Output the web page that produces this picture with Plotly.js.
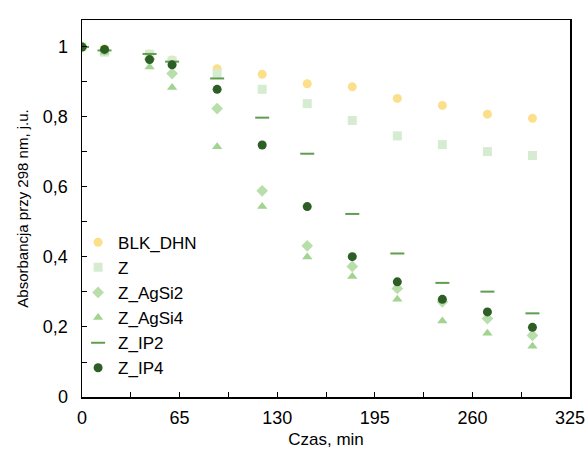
<!DOCTYPE html>
<html>
<head>
<meta charset="utf-8">
<script src="https://cdn.plot.ly/plotly-3.0.1.min.js"></script>
<style>html,body{margin:0;padding:0;background:#fff;}#chart{width:588px;height:450px;}</style>
</head>
<body>
<div id="chart"></div>
<script>
const time = [0, 15, 45, 60, 90, 120, 150, 180, 210, 240, 270, 300];
const BLK_DHN = [1, 0.995, 0.98, 0.963, 0.938, 0.922, 0.895, 0.886, 0.853, 0.833, 0.808, 0.796];
const Z       = [1, 0.985, 0.979, 0.96, 0.924, 0.879, 0.838, 0.79, 0.746, 0.721, 0.701, 0.69];
const Z_AgSi2 = [1, 0.99, 0.965, 0.924, 0.824, 0.589, 0.432, 0.373, 0.31, 0.272, 0.224, 0.176];
const Z_AgSi4 = [1, 0.985, 0.943, 0.884, 0.715, 0.544, 0.40, 0.344, 0.279, 0.217, 0.182, 0.145];
const Z_IP2   = [1, 0.99, 0.98, 0.958, 0.91, 0.798, 0.695, 0.523, 0.41, 0.326, 0.301, 0.239];
const Z_IP4   = [1, 0.993, 0.964, 0.949, 0.879, 0.72, 0.544, 0.401, 0.329, 0.279, 0.243, 0.199];

const names = ['BLK_DHN', 'Z', 'Z_AgSi2', 'Z_AgSi4', 'Z_IP2', 'Z_IP4'];
const series = [BLK_DHN, Z, Z_AgSi2, Z_AgSi4, Z_IP2, Z_IP4];
const colors = ['#FBDF8B', '#D6ECD0', '#B8DEA9', '#A0D48F', '#5E9E4E', '#2D5E26'];
const symbols = ['circle', 'square', 'diamond', 'triangle-up', 'line-ew', 'circle'];
const sizes = [9, 9, 9, 9, 10, 9];

const traces = series.map((s, i) => ({
  x: time, y: s, name: names[i], type: 'scatter', mode: 'markers',
  marker: {
    symbol: symbols[i], size: sizes[i], color: colors[i],
    line: symbols[i] === 'line-ew' ? {width: 2, color: colors[i]} : {width: 0}
  }
}));

const fam = 'Liberation Sans, Arial, sans-serif';
const layout = {
  width: 588, height: 450,
  margin: {l: 82, r: 18, t: 20, b: 53},
  paper_bgcolor: '#fff', plot_bgcolor: '#fff',
  separators: ', ',
  font: {family: fam, size: 17, color: '#000'},
  showlegend: true,
  legend: {x: -0.008, y: 0.457, xanchor: 'left', yanchor: 'top', bgcolor: 'rgba(0,0,0,0)',
           font: {family: fam, size: 17, color: '#000'}, itemwidth: 30, tracegroupgap: 0},
  xaxis: {
    range: [0, 325], dtick: 65, tick0: 0, showgrid: false, zeroline: false,
    showline: true, linecolor: '#000', linewidth: 1.5, mirror: true,
    ticks: 'inside', ticklen: 5, tickcolor: '#000', ticklabelstandoff: 4,
    minor: {dtick: 32.5, tick0: 0, ticks: 'inside', ticklen: 5, tickcolor: '#000'},
    tickfont: {family: fam, size: 18, color: '#000'},
    title: {text: 'Czas, min', font: {family: fam, size: 17, color: '#000'}, standoff: 6}
  },
  yaxis: {
    range: [0, 1.077], dtick: 0.2, tick0: 0, showgrid: false, zeroline: false,
    showline: true, linecolor: '#000', linewidth: 1.5, mirror: true,
    ticks: 'inside', ticklen: 5, tickcolor: '#000', ticklabelstandoff: 9,
    minor: {dtick: 0.1, tick0: 0, ticks: 'inside', ticklen: 5, tickcolor: '#000'},
    tickfont: {family: fam, size: 18, color: '#000'},
    title: {text: 'Absorbancja przy 298 nm, j.u.', font: {family: fam, size: 15, color: '#000'}, standoff: 10}
  }
};
Plotly.newPlot('chart', traces, layout, {staticPlot: true, displayModeBar: false});
</script>
</body>
</html>
